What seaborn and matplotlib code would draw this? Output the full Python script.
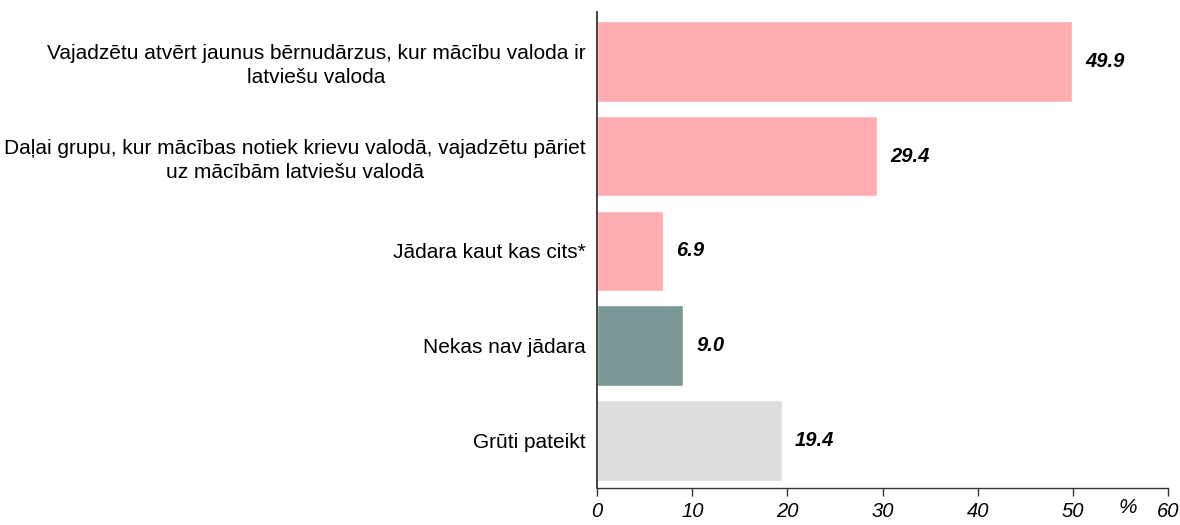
import matplotlib
matplotlib.use("Agg")
import matplotlib.pyplot as plt
import seaborn as sns
import pandas as pd

categories = [
    "Vajadzētu atvērt jaunus bērnudārzus, kur mācību valoda ir\nlatviešu valoda",
    "Daļai grupu, kur mācības notiek krievu valodā, vajadzētu pāriet\nuz mācībām latviešu valodā",
    "Jādara kaut kas cits*",
    "Nekas nav jādara",
    "Grūti pateikt",
]
values = [49.9, 29.4, 6.9, 9.0, 19.4]
colors = ["#FFADB0", "#FFADB0", "#FFADB0", "#7A9696", "#DDDDDD"]
xticks = [0, 10, 20, 30, 40, 50, 60]

sns.set_theme(style="white")
plt.rcParams["font.family"] = ["Liberation Sans", "DejaVu Sans"]

df = pd.DataFrame({"cat": categories, "val": values})

fig = plt.figure(figsize=(11.8, 5.25), dpi=100)
ax = fig.add_axes([0.506, 0.0705, 0.484, 0.9065])

sns.barplot(data=df, x="val", y="cat", hue="cat", palette=colors, legend=False,
            orient="h", width=0.85, ax=ax, saturation=1)

for i, v in enumerate(values):
    ax.text(v + 1.4, i, f"{v:.1f}", va="center", ha="left", fontsize=14.5,
            fontweight="bold", fontstyle="italic", color="black")

ax.set_xlim(0, 60)
ax.set_ylim(4.5, -0.52)
ax.set_xticks(xticks)
ax.set_xticklabels([str(t) for t in xticks], fontsize=14.5, fontstyle="italic",
                   color="black")
ax.set_xlabel("")
ax.set_ylabel("")
ax.tick_params(axis="x", direction="out", length=6, width=1, color="#333333", pad=4, bottom=True)
ax.tick_params(axis="y", length=0, pad=8)
for lbl in ax.get_yticklabels():
    lbl.set_fontsize(15)
    lbl.set_color("black")
    lbl.set_multialignment("center")
    lbl.set_linespacing(1.3)

for s in ["top", "right"]:
    ax.spines[s].set_visible(False)
ax.spines["left"].set_color("#222222")
ax.spines["bottom"].set_color("#333333")
ax.spines["left"].set_linewidth(1.2)
ax.spines["bottom"].set_linewidth(1.0)

ax.annotate("%", xy=(55.7, 0), xycoords=("data", "axes fraction"),
            xytext=(0, -7), textcoords="offset points", fontsize=15,
            fontstyle="italic", ha="center", va="top", color="black")

fig.savefig("out.png", dpi=100)
